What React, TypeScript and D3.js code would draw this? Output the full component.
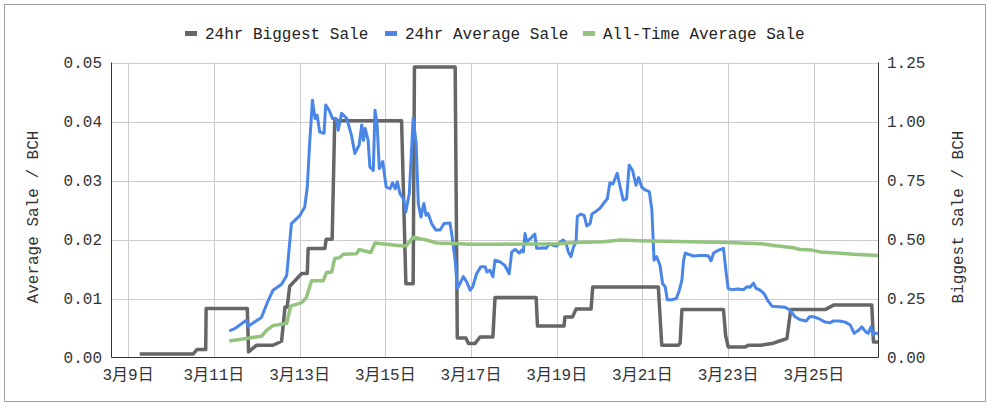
import { useEffect } from "react";
import * as d3 from "d3";

// [day of March (fractional), BCH]
const biggestSale: [number, number][] = [
  [9.27, 0.015], [10.52, 0.015], [10.61, 0.034], [10.81, 0.034], [10.82, 0.208],
  [11.78, 0.208], [11.81, 0.024], [12.0, 0.052], [12.38, 0.052], [12.58, 0.069],
  [12.66, 0.214], [12.71, 0.214], [12.77, 0.302], [13.05, 0.356], [13.18, 0.356],
  [13.2, 0.462], [13.59, 0.462], [13.62, 0.501], [13.76, 0.501], [13.82, 1.003],
  [15.38, 1.003], [15.48, 0.313], [15.65, 0.313], [15.68, 1.231], [16.63, 1.231],
  [16.68, 0.083], [16.88, 0.083], [16.94, 0.059], [17.09, 0.059], [17.21, 0.087],
  [17.51, 0.087], [17.56, 0.254], [18.52, 0.254], [18.55, 0.133], [19.17, 0.133],
  [19.19, 0.172], [19.37, 0.172], [19.45, 0.205], [19.8, 0.205], [19.84, 0.299],
  [21.37, 0.299], [21.45, 0.052], [21.84, 0.052], [21.88, 0.062], [21.92, 0.203],
  [22.89, 0.203], [22.94, 0.094], [23.0, 0.045], [23.4, 0.045], [23.47, 0.052],
  [23.75, 0.052], [24.02, 0.059], [24.25, 0.073], [24.37, 0.08], [24.46, 0.203],
  [25.26, 0.203], [25.46, 0.222], [26.35, 0.222], [26.39, 0.066], [26.5, 0.066],
];

const averageSale: [number, number][] = [
  [11.36, 0.0045], [11.49, 0.0049], [11.76, 0.0063], [11.8, 0.0053], [12.11, 0.0068],
  [12.27, 0.0097], [12.38, 0.0114], [12.58, 0.0124], [12.7, 0.0139], [12.81, 0.0227],
  [13.01, 0.0241], [13.12, 0.0255], [13.18, 0.0289], [13.23, 0.0357], [13.3, 0.0436],
  [13.36, 0.0405], [13.41, 0.0411], [13.47, 0.0382], [13.57, 0.038], [13.61, 0.0428],
  [13.69, 0.0419], [13.77, 0.0405], [13.85, 0.0405], [13.9, 0.0385], [13.98, 0.0414],
  [14.1, 0.0405], [14.21, 0.0377], [14.29, 0.0346], [14.39, 0.036], [14.45, 0.0394],
  [14.49, 0.0368], [14.53, 0.0388], [14.6, 0.0368], [14.64, 0.0323], [14.72, 0.0317],
  [14.76, 0.0419], [14.81, 0.0394], [14.86, 0.032], [14.94, 0.0332], [15.02, 0.0289],
  [15.11, 0.0286], [15.17, 0.0296], [15.23, 0.0286], [15.28, 0.0298], [15.34, 0.0278],
  [15.42, 0.0269], [15.48, 0.0247], [15.56, 0.0278], [15.65, 0.0405], [15.72, 0.0363],
  [15.77, 0.0261], [15.83, 0.0238], [15.9, 0.0261], [15.95, 0.0241], [16.0, 0.0244],
  [16.08, 0.0227], [16.18, 0.0216], [16.28, 0.0216], [16.37, 0.0227], [16.51, 0.0228],
  [16.57, 0.0199], [16.63, 0.0165], [16.68, 0.0117], [16.74, 0.0125], [16.82, 0.0137],
  [16.9, 0.0128], [16.98, 0.0114], [17.04, 0.012], [17.13, 0.0142], [17.23, 0.0154],
  [17.33, 0.0154], [17.37, 0.0145], [17.44, 0.0148], [17.51, 0.0137], [17.56, 0.0165],
  [17.68, 0.0162], [17.79, 0.0156], [17.89, 0.0142], [17.95, 0.0179], [18.03, 0.0183],
  [18.13, 0.0177], [18.18, 0.0182], [18.22, 0.0179], [18.26, 0.021], [18.3, 0.0196],
  [18.42, 0.0204], [18.49, 0.0209], [18.53, 0.0185], [18.61, 0.0185], [18.69, 0.0186],
  [18.75, 0.0185], [18.83, 0.0193], [18.92, 0.019], [19.0, 0.0189], [19.08, 0.0196],
  [19.15, 0.0199], [19.22, 0.0193], [19.27, 0.0179], [19.33, 0.0171], [19.39, 0.0187],
  [19.45, 0.0196], [19.48, 0.0239], [19.56, 0.0243], [19.64, 0.0241], [19.7, 0.0223],
  [19.78, 0.0227], [19.82, 0.0243], [19.92, 0.0248], [20.01, 0.0253], [20.09, 0.0261],
  [20.18, 0.0269], [20.24, 0.0296], [20.31, 0.0294], [20.36, 0.0303], [20.41, 0.0312],
  [20.48, 0.0289], [20.55, 0.0267], [20.63, 0.0269], [20.69, 0.0326], [20.77, 0.0317],
  [20.85, 0.0292], [20.91, 0.0305], [20.98, 0.0289], [21.06, 0.0284], [21.16, 0.0281],
  [21.22, 0.025], [21.27, 0.0165], [21.33, 0.0171], [21.41, 0.0156], [21.47, 0.0125],
  [21.53, 0.012], [21.58, 0.0098], [21.69, 0.0098], [21.79, 0.01], [21.86, 0.0114],
  [21.92, 0.0131], [21.96, 0.0165], [22.0, 0.0177], [22.07, 0.0175], [22.19, 0.0172],
  [22.35, 0.0173], [22.46, 0.0173], [22.54, 0.0172], [22.6, 0.0164], [22.66, 0.0177],
  [22.75, 0.0181], [22.89, 0.0185], [22.95, 0.0145], [23.0, 0.0117], [23.08, 0.0115],
  [23.22, 0.0116], [23.36, 0.0115], [23.44, 0.012], [23.51, 0.0119], [23.59, 0.0126],
  [23.65, 0.0117], [23.75, 0.0114], [23.84, 0.0108], [23.92, 0.0097], [24.02, 0.0087],
  [24.17, 0.0086], [24.33, 0.0085], [24.45, 0.008], [24.56, 0.0069], [24.68, 0.0064],
  [24.82, 0.0062], [24.9, 0.0069], [24.99, 0.0069], [25.11, 0.0066], [25.26, 0.006],
  [25.38, 0.0059], [25.46, 0.0062], [25.6, 0.0062], [25.73, 0.006], [25.85, 0.0055],
  [25.94, 0.0041], [26.04, 0.0046], [26.12, 0.0052], [26.17, 0.0047], [26.22, 0.0043],
  [26.27, 0.0041], [26.33, 0.0052], [26.38, 0.0038], [26.43, 0.0041], [26.5, 0.0041],
];

const allTimeAverage: [number, number][] = [
  [11.36, 0.0028], [12.11, 0.0036], [12.23, 0.0046], [12.38, 0.0054], [12.7, 0.0058],
  [12.79, 0.0087], [13.05, 0.0093], [13.16, 0.0102], [13.28, 0.013], [13.55, 0.013],
  [13.63, 0.0144], [13.75, 0.0145], [13.82, 0.0168], [13.93, 0.0169], [14.02, 0.0175],
  [14.33, 0.0176], [14.39, 0.0183], [14.66, 0.0178], [14.76, 0.0194], [15.03, 0.0192],
  [15.42, 0.0189], [15.5, 0.019], [15.65, 0.0204], [15.97, 0.0199], [16.2, 0.0194],
  [16.74, 0.0193], [16.98, 0.0192], [17.68, 0.0192], [19.0, 0.0193], [19.47, 0.0195],
  [20.09, 0.0196], [20.48, 0.0199], [20.94, 0.0198], [22.11, 0.0196], [23.0, 0.0195],
  [23.75, 0.0193], [24.06, 0.019], [24.52, 0.0186], [24.68, 0.0183], [24.95, 0.0182],
  [25.15, 0.0179], [25.54, 0.0177], [25.92, 0.0175], [26.5, 0.0173],
];

const xTickDays = [9, 11, 13, 15, 17, 19, 21, 23, 25];
const leftTicks = [0, 0.01, 0.02, 0.03, 0.04, 0.05];
const rightTicks = [0, 0.25, 0.5, 0.75, 1.0, 1.25];

const seriesNames = ["24hr Biggest Sale", "24hr Average Sale", "All-Time Average Sale"];
const seriesColors = ["#666666", "#4a86e8", "#93c47d"];

const W = 991;
const H = 406;
const FONT = '"Liberation Mono", "Noto Sans CJK JP", monospace';

export default function App() {
  useEffect(() => {
    document.body.style.margin = "0";
  }, []);

  const left = 111.5;
  const right = 878.5;
  const top = 62.5;
  const bottom = 357.5;

  const x = d3.scaleLinear().domain([8.612, 26.507]).range([left, right]);
  const yL = d3.scaleLinear().domain([0, 0.05]).range([bottom, top]);
  const yR = d3.scaleLinear().domain([0, 1.25]).range([bottom, top]);

  const lineR = d3.line<[number, number]>().x((d) => x(d[0])).y((d) => yR(d[1]));
  const lineL = d3.line<[number, number]>().x((d) => x(d[0])).y((d) => yL(d[1]));

  const legendX = [185, 385, 583];
  const midY = 217;

  return (
    <svg width={W} height={H} style={{ display: "block" }}>
      <rect x={0} y={0} width={W} height={H} fill="#fff" />
      <rect x={4.5} y={4.5} width={981} height={397} fill="none" stroke="#9e9e9e" />

      {/* grid */}
      {leftTicks.slice(1).map((t) => (
        <line key={"h" + t} x1={left} x2={right} y1={Math.round(yL(t)) + 0.5} y2={Math.round(yL(t)) + 0.5} stroke="#cccccc" />
      ))}
      {xTickDays.map((d) => (
        <line key={"v" + d} x1={Math.round(x(d)) + 0.5} x2={Math.round(x(d)) + 0.5} y1={top} y2={bottom} stroke="#cccccc" />
      ))}

      {/* axes */}
      <line x1={left} x2={left} y1={top} y2={bottom} stroke="#333" />
      <line x1={right} x2={right} y1={top} y2={bottom} stroke="#333" />
      <line x1={left} x2={right} y1={bottom} y2={bottom} stroke="#333" />

      {/* series */}
      <path d={lineR(biggestSale) ?? ""} fill="none" stroke={seriesColors[0]} strokeWidth={3.5} strokeLinejoin="round" />
      <path d={lineL(averageSale) ?? ""} fill="none" stroke={seriesColors[1]} strokeWidth={3} strokeLinejoin="round" />
      <path d={lineL(allTimeAverage) ?? ""} fill="none" stroke={seriesColors[2]} strokeWidth={3.5} strokeLinejoin="round" />

      {/* tick labels */}
      <g fontFamily={FONT} fontSize={16} fill="#333">
        {leftTicks.map((t) => (
          <text key={"l" + t} x={102} y={yL(t) + 5} textAnchor="end">{t.toFixed(2)}</text>
        ))}
        {rightTicks.map((t) => (
          <text key={"r" + t} x={887} y={yR(t) + 5} textAnchor="start">{t.toFixed(2)}</text>
        ))}
        {xTickDays.map((d) => (
          <text key={"x" + d} x={x(d)} y={380} textAnchor="middle">{`3月${d}日`}</text>
        ))}
        <text transform={`translate(38,${midY}) rotate(-90)`} textAnchor="middle">Average Sale / BCH</text>
        <text transform={`translate(963,${midY}) rotate(-90)`} textAnchor="middle">Biggest Sale / BCH</text>
      </g>

      {/* legend */}
      <g fontFamily={FONT} fontSize={16} fill="#222">
        {seriesNames.map((name, i) => (
          <g key={name}>
            <rect x={legendX[i]} y={31} width={12} height={5} fill={seriesColors[i]} />
            <text x={legendX[i] + 20} y={38.5}>{name}</text>
          </g>
        ))}
      </g>
    </svg>
  );
}
